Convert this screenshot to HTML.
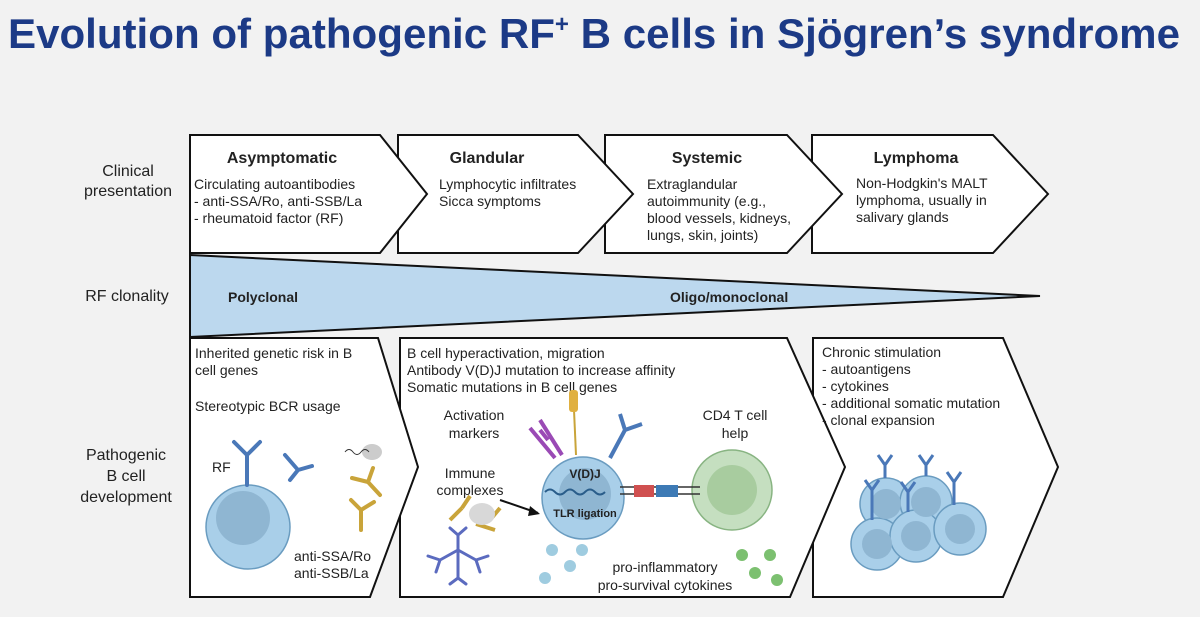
<!DOCTYPE html>
<html><head><meta charset="utf-8"><style>
html,body{margin:0;padding:0;background:#f2f2f2}
svg{display:block}
text{font-family:"Liberation Sans",sans-serif;fill:#222}
</style></head><body>
<svg width="1200" height="617" viewBox="0 0 1200 617">
<rect width="1200" height="617" fill="#f2f2f2"/>
<text x="8" y="48" font-size="42" font-weight="bold" style="fill:#1c3a86" textLength="1172" lengthAdjust="spacingAndGlyphs">Evolution of pathogenic RF<tspan font-size="24" dy="-16">+</tspan><tspan dy="16"> B cells in Sjögren’s syndrome</tspan></text>

<g font-size="16" text-anchor="middle">
<text x="128" y="176">Clinical</text><text x="128" y="196">presentation</text>
<text x="127" y="301">RF clonality</text>
<text x="126" y="460">Pathogenic</text><text x="126" y="481">B cell</text><text x="126" y="502">development</text>
</g>

<g fill="#fff" stroke="#111" stroke-width="2">
<polygon points="812,135 993,135 1048,194 993,253 812,253"/>
<polygon points="605,135 787,135 842,194 787,253 605,253"/>
<polygon points="398,135 578,135 633,194 578,253 398,253"/>
<polygon points="190,135 380,135 427,194 380,253 190,253"/>
</g>
<g font-size="14">
<text x="282" y="163" font-size="16" font-weight="bold" text-anchor="middle">Asymptomatic</text>
<text x="194" y="189">Circulating autoantibodies</text>
<text x="194" y="206">- anti-SSA/Ro, anti-SSB/La</text>
<text x="194" y="223">- rheumatoid factor (RF)</text>
<text x="487" y="163" font-size="16" font-weight="bold" text-anchor="middle">Glandular</text>
<text x="439" y="189">Lymphocytic infiltrates</text>
<text x="439" y="206">Sicca symptoms</text>
<text x="707" y="163" font-size="16" font-weight="bold" text-anchor="middle">Systemic</text>
<text x="647" y="189">Extraglandular</text>
<text x="647" y="206">autoimmunity (e.g.,</text>
<text x="647" y="223">blood vessels, kidneys,</text>
<text x="647" y="240">lungs, skin, joints)</text>
<text x="916" y="163" font-size="16" font-weight="bold" text-anchor="middle">Lymphoma</text>
<text x="856" y="188">Non-Hodgkin's MALT</text>
<text x="856" y="205">lymphoma, usually in</text>
<text x="856" y="222">salivary glands</text>
</g>

<polygon points="190,255 1040,296 190,337" fill="#bcd8ee" stroke="#111" stroke-width="2"/>
<text x="228" y="302" font-size="14" font-weight="bold">Polyclonal</text>
<text x="670" y="302" font-size="14" font-weight="bold">Oligo/monoclonal</text>

<g fill="#fff" stroke="#111" stroke-width="2">
<polygon points="813,338 1003,338 1058,467 1003,597 813,597"/>
<polygon points="400,338 787,338 845,467 790,597 400,597"/>
<polygon points="190,338 378,338 418,467 370,597 190,597"/>
</g>
<g font-size="14">
<text x="195" y="358">Inherited genetic risk in B</text>
<text x="195" y="375">cell genes</text>
<text x="195" y="411">Stereotypic BCR usage</text>
<text x="212" y="472">RF</text>
<text x="294" y="561">anti-SSA/Ro</text>
<text x="294" y="578">anti-SSB/La</text>
<text x="407" y="358">B cell hyperactivation, migration</text>
<text x="407" y="375">Antibody V(D)J mutation to increase affinity</text>
<text x="407" y="392">Somatic mutations in B cell genes</text>
<text x="474" y="420" text-anchor="middle">Activation</text>
<text x="474" y="438" text-anchor="middle">markers</text>
<text x="470" y="478" text-anchor="middle">Immune</text>
<text x="470" y="495" text-anchor="middle">complexes</text>
<text x="735" y="420" text-anchor="middle">CD4 T cell</text>
<text x="735" y="438" text-anchor="middle">help</text>
<text x="665" y="572" text-anchor="middle">pro-inflammatory</text>
<text x="665" y="590" text-anchor="middle">pro-survival cytokines</text>
<text x="822" y="357">Chronic stimulation</text>
<text x="822" y="374">- autoantigens</text>
<text x="822" y="391">- cytokines</text>
<text x="822" y="408">- additional somatic mutation</text>
<text x="822" y="425">- clonal expansion</text>
</g>

<circle cx="248" cy="527" r="42" fill="#a9cfe9" stroke="#6a9cc0" stroke-width="1.5"/>
<circle cx="243" cy="518" r="27" fill="#8fb6d2"/>
<g stroke="#4a78b8" stroke-width="4" fill="none" stroke-linecap="round">
<path d="M247 485 V455 M247 455 L234 442 M247 455 L260 442"/>
<path d="M285 455 L298 470 M298 470 L290 480 M298 470 L312 466"/>
</g>
<g stroke="#c9a43a" stroke-width="4" fill="none" stroke-linecap="round">
<path d="M373 468 L368 482 M368 482 L352 478 M368 482 L380 495"/>
<path d="M361 530 L361 510 M361 510 L351 500 M361 510 L374 502"/>
</g>
<ellipse cx="372" cy="452" rx="10" ry="8" fill="#ccc"/>
<path d="M345 452 q4 -5 8 0 t8 0 t8 0" stroke="#333" fill="none"/>

<circle cx="583" cy="498" r="41" fill="#a9cfe9" stroke="#6a9cc0" stroke-width="1.5"/>
<circle cx="585" cy="494" r="26" fill="#8fb6d2"/>
<circle cx="732" cy="490" r="40" fill="#c5dfc0" stroke="#88b482" stroke-width="1.5"/>
<circle cx="732" cy="490" r="25" fill="#a8cc9f"/>
<text x="585" y="478" font-size="12" font-weight="bold" text-anchor="middle">V(D)J</text>
<text x="585" y="517" font-size="11" font-weight="bold" text-anchor="middle">TLR ligation</text>
<path d="M545 492 q5 -5 10 0 t10 0 t10 0 t10 0 t10 0 t10 0" stroke="#2a5d8a" fill="none" stroke-width="2"/>
<path d="M620 487 H700 M620 494 H700" stroke="#333" stroke-width="1.5"/>
<rect x="634" y="485" width="20" height="12" fill="#d05050"/>
<rect x="656" y="485" width="22" height="12" fill="#3d7ab5"/>
<path d="M500 500 L538 513" stroke="#111" stroke-width="2"/>
<polygon points="540,514 530,506 528,516" fill="#111"/>
<g stroke="#9a4ab5" stroke-width="4" fill="none"><path d="M562 455 L540 420 M555 458 L530 428 M548 440 L540 430"/></g>
<path d="M576 455 L574 410" stroke="#c9a43a" stroke-width="2"/><rect x="569" y="390" width="9" height="22" rx="3" fill="#e0b040"/>
<g stroke="#4a78b8" stroke-width="4" fill="none"><path d="M610 458 L625 430 M625 430 L620 414 M625 430 L642 424"/></g>
<g stroke="#c9a43a" stroke-width="4" fill="none"><path d="M450 520 L462 508 M462 508 L470 496 M476 524 L495 530 M490 520 L500 508"/></g>
<ellipse cx="482" cy="514" rx="13" ry="11" fill="#d8d8d8"/>
<g stroke="#5b6bbf" stroke-width="3" fill="none" stroke-linecap="round">
<path d="M458 550 L458 535 M458 535 L450 528 M458 535 L466 528 M458 550 L440 560 M440 560 L428 556 M440 560 L436 572 M458 550 L476 560 M476 560 L488 556 M476 560 L480 572 M458 550 L458 578 M458 578 L450 584 M458 578 L466 584"/>
</g>
<g fill="#9fcce0"><circle cx="552" cy="550" r="6"/><circle cx="582" cy="550" r="6"/><circle cx="570" cy="566" r="6"/><circle cx="545" cy="578" r="6"/></g>
<g fill="#7cc070"><circle cx="742" cy="555" r="6"/><circle cx="770" cy="555" r="6"/><circle cx="755" cy="573" r="6"/><circle cx="777" cy="580" r="6"/></g>

<g fill="#a9cfe9" stroke="#6a9cc0" stroke-width="1.5">
<circle cx="886" cy="504" r="26"/><circle cx="926" cy="502" r="26"/>
<circle cx="877" cy="544" r="26"/><circle cx="916" cy="536" r="26"/><circle cx="960" cy="529" r="26"/>
</g>
<g fill="#8fb6d2"><circle cx="886" cy="504" r="15"/><circle cx="926" cy="502" r="15"/><circle cx="877" cy="544" r="15"/><circle cx="916" cy="536" r="15"/><circle cx="960" cy="529" r="15"/></g>
<g stroke="#4a78b8" stroke-width="3" fill="none">
<path d="M885 478 V465 M885 465 L878 455 M885 465 L892 455"/>
<path d="M926 476 V465 M926 465 L919 455 M926 465 L933 455"/>
<path d="M872 520 V490 M872 490 L865 480 M872 490 L879 480"/>
<path d="M908 512 V492 M908 492 L901 482 M908 492 L915 482"/>
<path d="M954 505 V482 M954 482 L947 472 M954 482 L961 472"/>
</g>
</svg>
</body></html>
